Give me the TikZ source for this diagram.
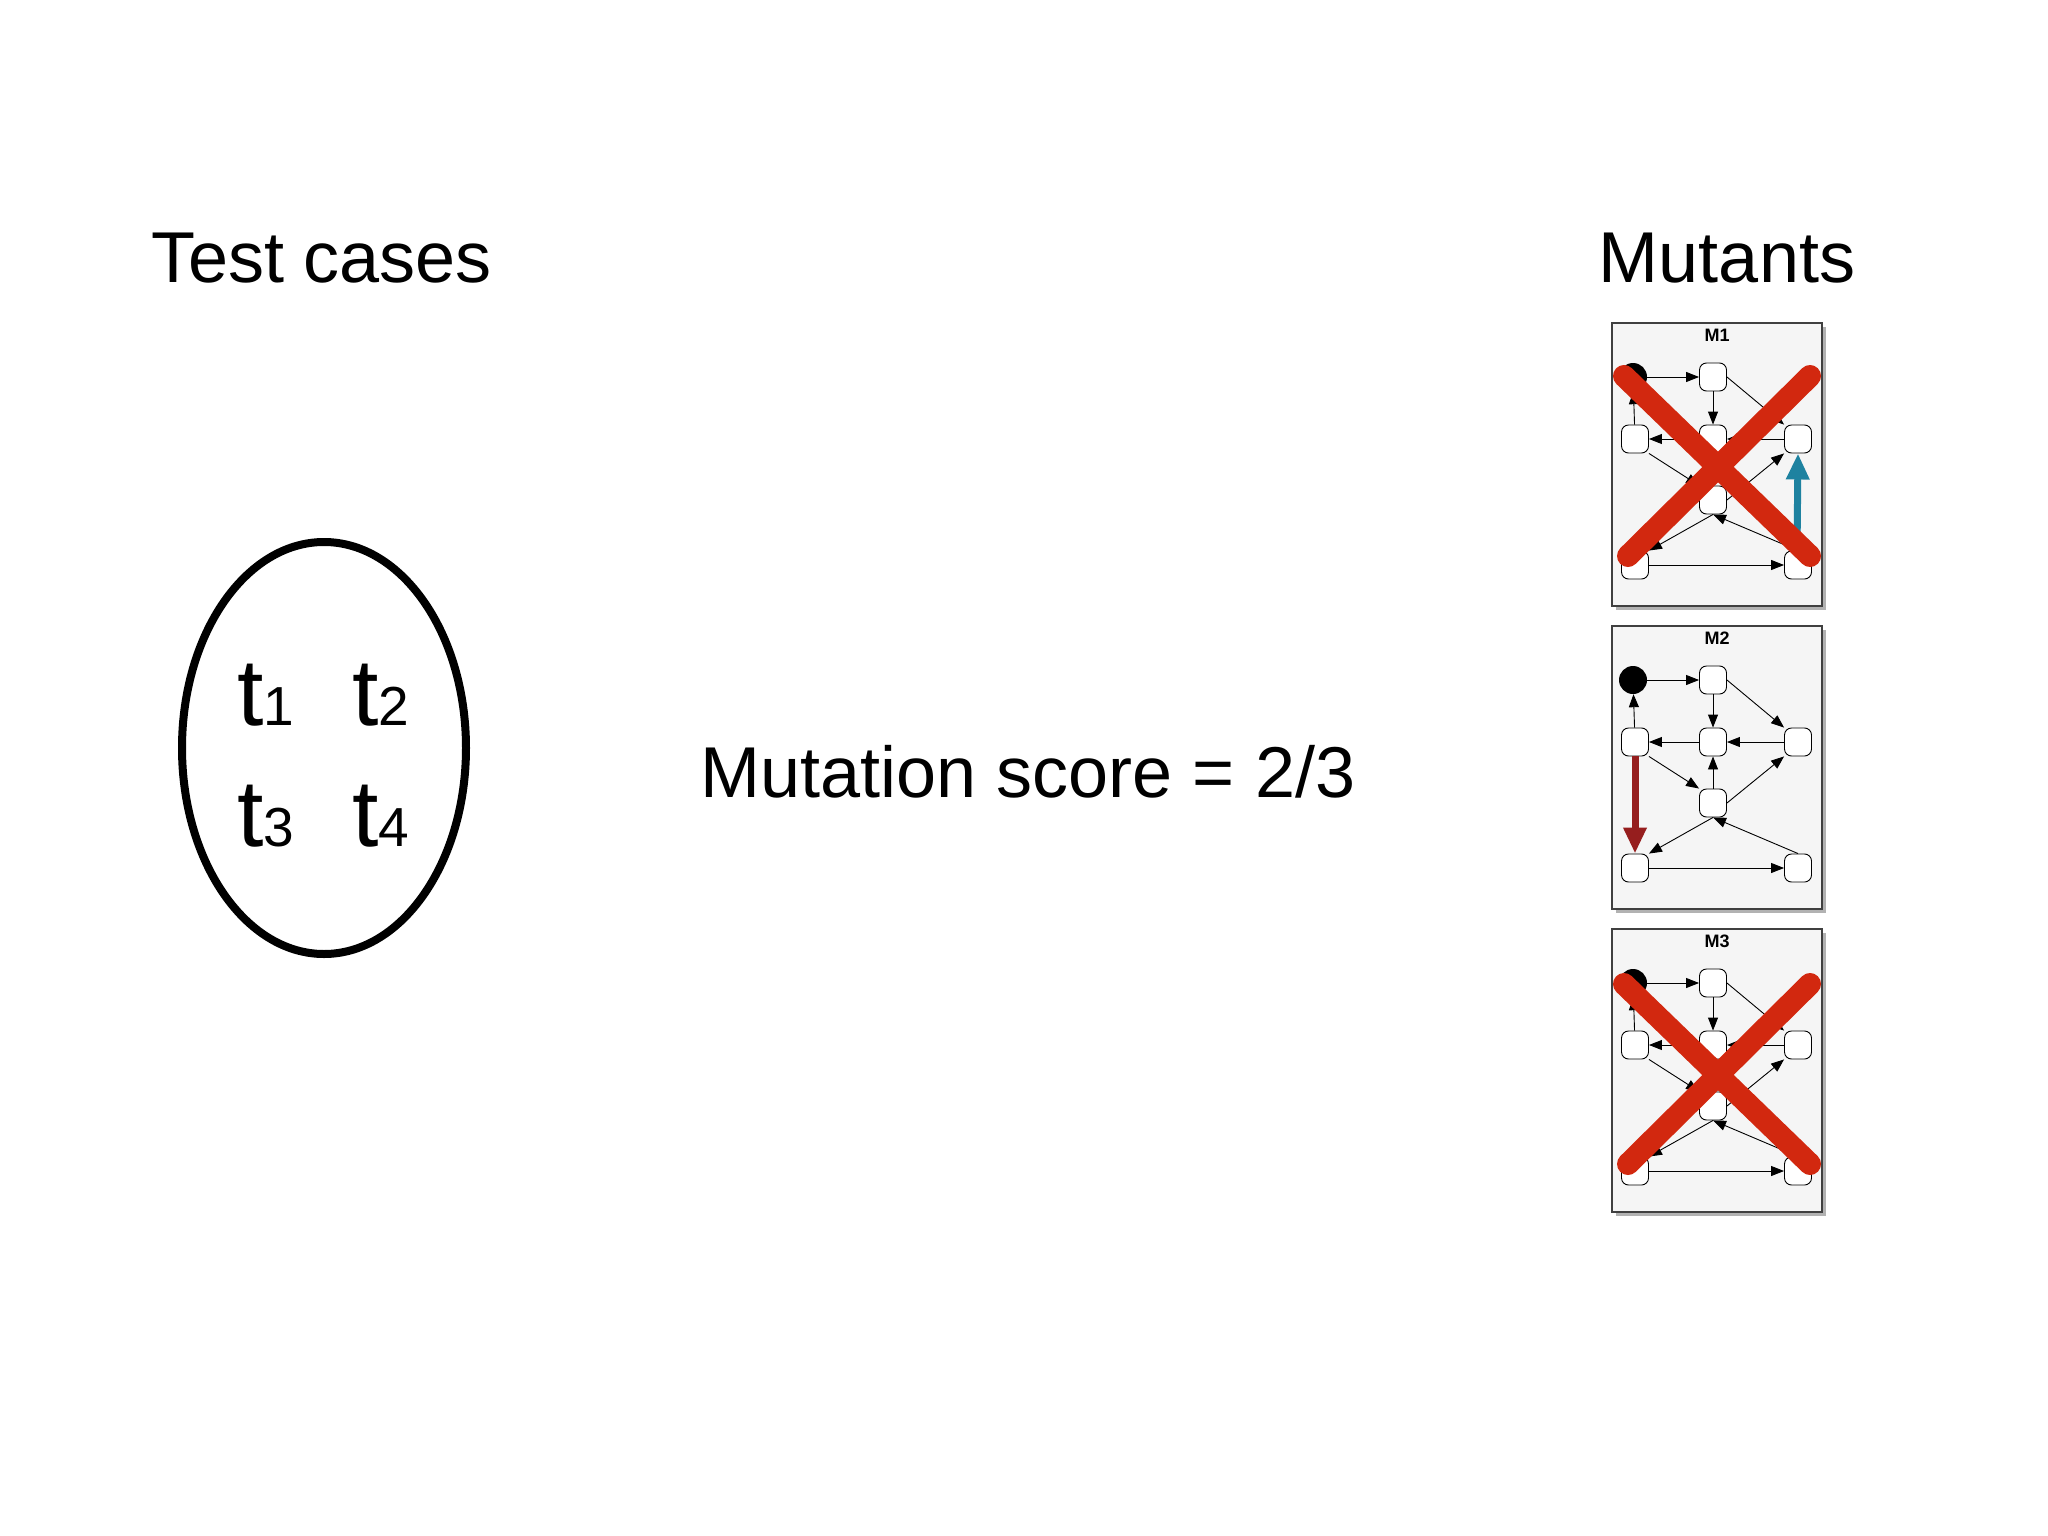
\documentclass[tikz,border=0pt]{standalone}
\usepackage{fontspec}
\setmainfont{Liberation Sans}
\usetikzlibrary{arrows.meta,shapes.misc,shapes.geometric}
\begin{document}
\begin{tikzpicture}[x=1pt,y=-1pt,
  st/.style={draw,rectangle,rounded corners=7pt,minimum width=27pt,minimum height=28pt,inner sep=0pt,fill=white,line width=0.9pt},
  startn/.style={circle,fill=black,minimum size=28pt,inner sep=0pt},
  ed/.style={-{Triangle[length=13pt,width=10pt]},line width=0.9pt},
  crossx/.style={line width=22pt,color={rgb,255:red,210;green,40;blue,15},line cap=round},
  big/.style={font=\fontsize{72}{76}\selectfont}]
\useasboundingbox (0,0) rectangle (2048,1536);
\fill[white] (0,0) rectangle (2048,1536);
\node[big,anchor=base] (tc) at (322,282) {Test cases};
\node[big,anchor=base] (mu) at (1727,282) {Mutants};
\node[big,anchor=base] (ms) at (1028,797) {Mutation score = 2/3};
\node[draw,line width=8pt,ellipse,minimum width=284pt,minimum height=412pt] (ell) at (324,748) {};
\newcommand{\tl}[1]{\fontsize{95}{95}\selectfont t\fontsize{55}{55}\selectfont #1}
\node[anchor=base] (t1) at (266,725) {\tl{1}};
\node[anchor=base] (t2) at (381,725) {\tl{2}};
\node[anchor=base] (t3) at (266,846) {\tl{3}};
\node[anchor=base] (t4) at (381,846) {\tl{4}};
\newcommand{\mgraph}[3]{%
\begin{scope}[yshift=#2]
\fill[black!30] (1616,630) rectangle (1826,913);
\filldraw[draw=black!75,fill=black!4,line width=1.2pt] (1612,626) rectangle (1822,909);
\node[font=\bfseries\fontsize{18}{18}\selectfont] (#1t) at (1717,638) {#3};
\node[startn] (#1s) at (1633,680) {};
\node[st] (#1a) at (1713,680) {};
\node[st] (#1r) at (1798,742) {};
\node[st] (#1m) at (1713,742) {};
\node[st] (#1l) at (1635,742) {};
\node[st] (#1n) at (1713,803) {};
\node[st] (#1bl) at (1635,868) {};
\node[st] (#1br) at (1798,868) {};
\draw[ed] (#1s) -- (#1a);
\draw[ed] (#1a) -- (#1m);
\draw[ed] (#1a.east) -- (#1r.north west);
\draw[ed] (#1r) -- (#1m);
\draw[ed] (#1m) -- (#1l);
\draw[ed] (#1l) -- (#1s);
\draw[ed] (#1l.south east) -- (#1n.north west);
\draw[ed] (#1n) -- (#1m);
\draw[ed] (#1n.east) -- (#1r.south west);
\draw[ed] (#1n.south) -- (#1bl.north east);
\draw[ed] (#1br.north) -- (#1n.south);
\draw[ed] (#1bl) -- (#1br);
\end{scope}}
\mgraph{p}{303}{M1}
\mgraph{q}{0}{M2}
\mgraph{w}{-303}{M3}
\coordinate (bb) at ([xshift=-1pt]pbr.north);
\draw[-{Triangle[length=26pt,width=22pt]},line width=7pt,color={rgb,255:red,30;green,130;blue,160}] (bb) -- (pr.south);
\draw[-{Triangle[length=26pt,width=22pt]},line width=7pt,color={rgb,255:red,150;green,30;blue,30}] (ql.south) -- (qbl.north);
\draw[crossx] (1624,376) -- (1810,556);
\draw[crossx] (1810,376) -- (1628,556);
\draw[crossx] (1624,984) -- (1810,1164);
\draw[crossx] (1810,984) -- (1628,1164);
\end{tikzpicture}
\end{document}
